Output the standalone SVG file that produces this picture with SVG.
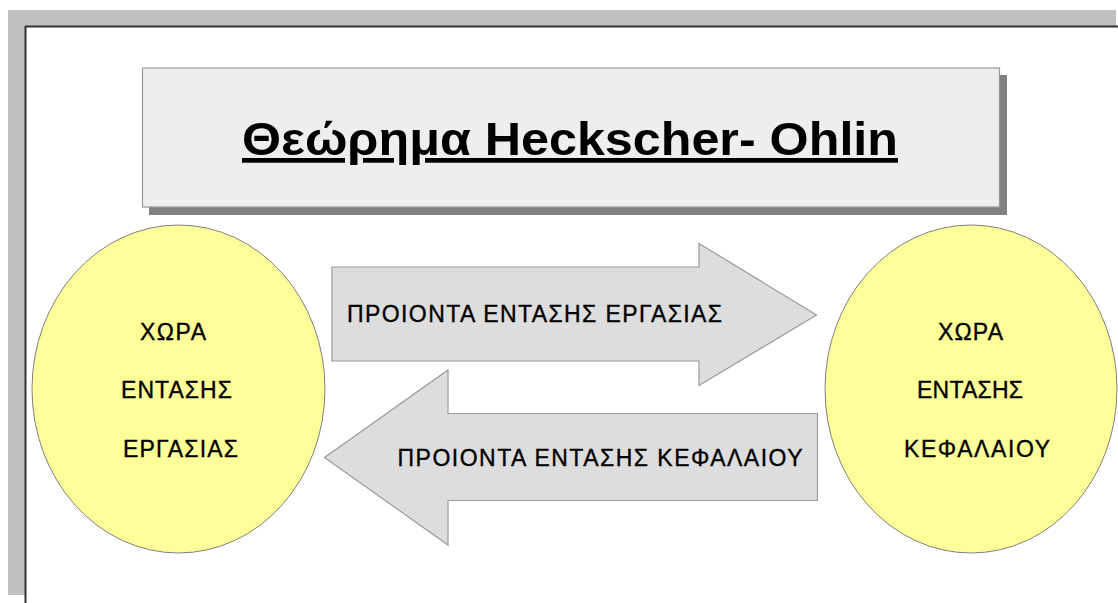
<svg xmlns="http://www.w3.org/2000/svg" width="1118" height="603" viewBox="0 0 1118 603">
<style>
.t{font-family:"Liberation Sans",Arial,sans-serif;fill:#000;}
.lbl{font-size:23px;stroke:#000;stroke-width:0.35;}
.ell{fill:#ffff99;stroke:#7f7f7f;stroke-width:1;}
.arr{fill:#dddddd;stroke:#9a9a9a;stroke-width:1.2;}
</style>
<rect x="0" y="0" width="1118" height="603" fill="#ffffff"/>
<g id="frame">
<rect x="8" y="10" width="1108" height="17" fill="#c0c0c0"/>
<rect x="8" y="10" width="17" height="585" fill="#c0c0c0"/>
<line x1="25" y1="26.5" x2="1118" y2="26.5" stroke="#333" stroke-width="2"/>
<line x1="25.5" y1="26" x2="25.5" y2="603" stroke="#333" stroke-width="2"/>
</g>
<g id="title">
<rect x="149" y="75" width="858" height="140" fill="#808080"/>
<rect x="142.5" y="68" width="857" height="139" fill="#eeeeee" stroke="#999" stroke-width="1.2"/>
<text class="t" x="570" y="155" font-size="47" font-weight="bold" text-anchor="middle" text-decoration="underline" textLength="656" lengthAdjust="spacingAndGlyphs">Θεώρημα Heckscher- Ohlin</text>
</g>
<g id="connectors">
<g id="arrow-labour">
<polygon class="arr" points="332,267 699,267 699,243.5 816.5,315 699,385.5 699,361 332,361"/>
<text class="t lbl" x="347" y="322" font-size="24" textLength="375" lengthAdjust="spacing">ΠΡΟΙΟΝΤΑ ΕΝΤΑΣΗΣ ΕΡΓΑΣΙΑΣ</text>
</g>
<g id="arrow-capital">
<polygon class="arr" points="817.5,413.5 448,413.5 448,370 324.5,457.5 448,545 448,500.5 817.5,500.5"/>
<text class="t lbl" x="397.5" y="465.5" font-size="24" textLength="405" lengthAdjust="spacing">ΠΡΟΙΟΝΤΑ ΕΝΤΑΣΗΣ ΚΕΦΑΛΑΙΟΥ</text>
</g>
</g>
<g id="country-labour">
<ellipse class="ell" cx="178.5" cy="389" rx="146.5" ry="164"/>
<text class="t lbl" x="140" y="339.5" textLength="66" lengthAdjust="spacing">ΧΩΡΑ</text>
<text class="t lbl" x="121" y="397.5" textLength="111" lengthAdjust="spacing">ΕΝΤΑΣΗΣ</text>
<text class="t lbl" x="123" y="456.5" textLength="115" lengthAdjust="spacing">ΕΡΓΑΣΙΑΣ</text>
</g>
<g id="country-capital">
<ellipse class="ell" cx="971" cy="389" rx="146" ry="164"/>
<text class="t lbl" x="938" y="340" textLength="65" lengthAdjust="spacing">ΧΩΡΑ</text>
<text class="t lbl" x="917" y="398" textLength="106" lengthAdjust="spacing">ΕΝΤΑΣΗΣ</text>
<text class="t lbl" x="904" y="456.5" textLength="146" lengthAdjust="spacing">ΚΕΦΑΛΑΙΟΥ</text>
</g>
</svg>
